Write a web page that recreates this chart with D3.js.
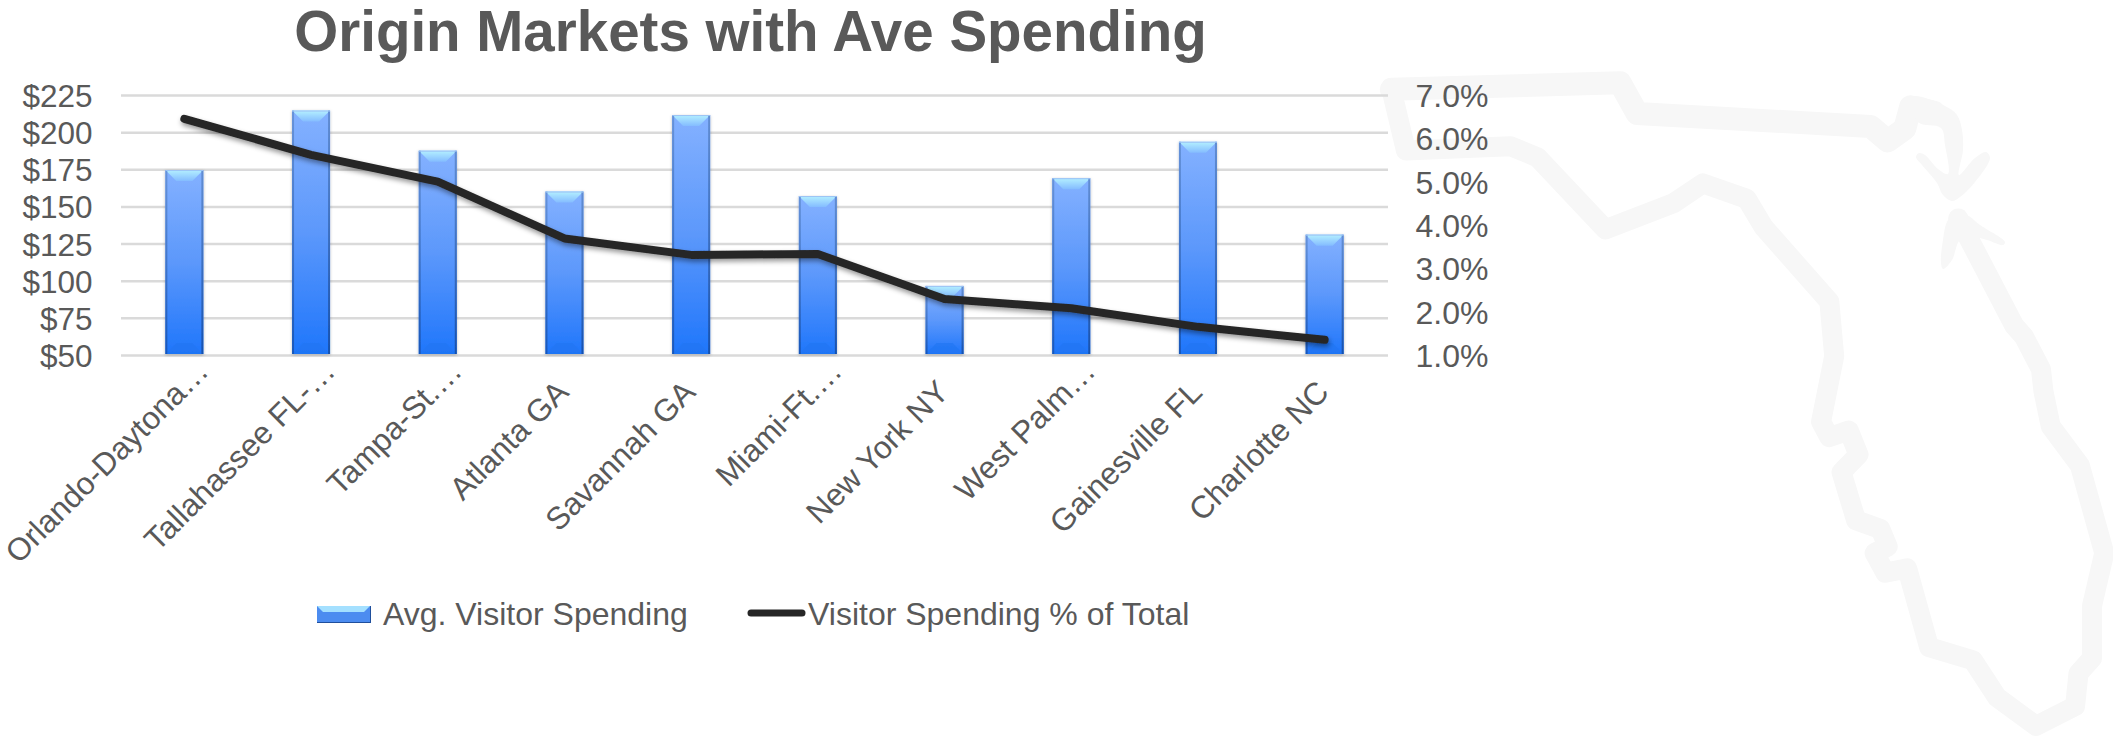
<!DOCTYPE html>
<html>
<head>
<meta charset="utf-8">
<script src="https://cdnjs.cloudflare.com/ajax/libs/d3/7.8.5/d3.min.js"></script>
<style>
html,body{margin:0;padding:0;background:#fff;}
svg{display:block;}
text{font-family:"Liberation Sans",Arial,sans-serif;fill:#595959;}
</style>
</head>
<body>
<svg id="chart" width="2113" height="736"></svg>
<script>
// Chart content
const chartTitle = "Origin Markets with Ave Spending";
const categories = ["Orlando-Daytona…","Tallahassee FL-…","Tampa-St.…","Atlanta GA","Savannah GA","Miami-Ft.…","New York NY","West Palm…","Gainesville FL","Charlotte NC"];
const avgSpending = [174.5,214.5,187.5,160,211.5,157,96.5,169,193.5,131];
const spendingShare = [6.45,5.62,5.0,3.69,3.31,3.33,2.29,2.08,1.65,1.35];
const spendingTicks = [50,75,100,125,150,175,200,225];
const shareTicks = [1,2,3,4,5,6,7];
const legendBar = "Avg. Visitor Spending";
const legendLine = "Visitor Spending % of Total";

// Florida outline, walked clockwise from the panhandle, on its own drawing grid
const floridaNorth = [[85,90],[555,75],[590,145],[1070,175],[1105,208],[1140,180],[1152,130],[1200,142]];
const floridaSouth = [[85,90],[115,230],[330,220],[385,245],[525,410],[665,350],[725,305],[815,340],[850,405],[985,575],[995,700],[968,850],[985,885],[1025,870],[1045,925],[1010,965],[1040,1075],[1090,1095],[1105,1135],[1078,1150],[1100,1195],[1145,1185],[1190,1365],[1280,1395],[1330,1480],[1410,1545],[1490,1500],[1497,1425],[1525,1390],[1525,1270],[1550,1150],[1500,950],[1440,860],[1425,780],[1420,730],[1385,655],[1365,630],[1290,470],[1250,385]];
// Hand-drawn arrowheads closing the outline at the state's northeast corner
const arrowDown = [[1912,97],[1945,106],[1957,115],[1962,130],[1963,150],[1959,175],[1975,158],[1986,152],[1990,158],[1975,182],[1960,197],[1952,201],[1943,195],[1937,183],[1922,165],[1916,157],[1919,153],[1925,155],[1938,169],[1948,174],[1945,145],[1941,128],[1918,122]];
const arrowUp = [[1958,213],[1967,215],[1980,225],[2005,242],[2003,245],[1987,240],[1973,237],[1960,240],[1952,260],[1943,269],[1941,263],[1943,240],[1948,220]];

const svg = d3.select("#chart");
const plot = {left:121, right:1388, top:95, bottom:355};
const tickFont = 31.5;
const legendFont = 32;

const x = d3.scaleBand().domain(categories).range([plot.left,plot.right]).paddingInner(0.7).paddingOuter(0.35);
const yLeft = d3.scaleLinear().domain([50,225]).range([plot.bottom,plot.top]);
const yRight = d3.scaleLinear().domain([1,7]).range([plot.bottom,plot.top]);
const mapX = d3.scaleLinear().domain([0,763*2.055]).range([1350,2113]);
const mapY = d3.scaleLinear().domain([0,686*2.286]).range([50,736]);

// Gradients and shadows
const defs = svg.append("defs");
function gradient(id, stops){
  const g = defs.append("linearGradient").attr("id",id).attr("x1",0).attr("y1",0).attr("x2",0).attr("y2",1);
  stops.forEach(([o,c])=>g.append("stop").attr("offset",o).attr("stop-color",c));
}
gradient("barBody",[[0,"#84b1ff"],[0.5,"#5c98fb"],[1,"#1f76fb"]]);
gradient("barCap",[[0,"#b4f0ff"],[1,"#84bcff"]]);
gradient("barEdge",[[0,"#5f8bd0"],[1,"#164faa"]]);
const lineShadow = defs.append("filter").attr("id","lineShadow").attr("x","-5%").attr("y","-20%").attr("width","110%").attr("height","150%");
lineShadow.append("feDropShadow").attr("dx",1).attr("dy",3).attr("stdDeviation",2.5).attr("flood-color","#000").attr("flood-opacity",0.4);
const barShadow = defs.append("filter").attr("id","barShadow").attr("x","-20%").attr("y","-5%").attr("width","140%").attr("height","112%");
barShadow.append("feDropShadow").attr("dx",0).attr("dy",1).attr("stdDeviation",1.5).attr("flood-color","#000").attr("flood-opacity",0.25);

// Florida watermark behind the chart
const outline = d3.line().x(d=>mapX(d[0])).y(d=>mapY(d[1]));
const map = svg.append("g").attr("fill","none").attr("stroke","#f7f7f7").attr("stroke-linejoin","round").attr("stroke-linecap","round");
map.append("path").attr("d",outline(floridaNorth)).attr("stroke-width",23);
map.append("path").attr("d",outline(floridaSouth)).attr("stroke-width",20);
const blob = d3.line().curve(d3.curveCatmullRomClosed.alpha(0.5));
[arrowDown,arrowUp].forEach(shape=>svg.append("path").attr("d",blob(shape)).attr("fill","#f7f7f7"));

// Gridlines and left axis
const axisLeft = d3.axisLeft(yLeft).tickValues(spendingTicks).tickFormat(d=>"$"+d).tickSize(0).tickPadding(0);
const gLeft = svg.append("g").attr("transform",`translate(92.5,0)`).call(axisLeft);
gLeft.select(".domain").remove();
gLeft.selectAll("text").attr("font-size",tickFont).attr("dy",11.5).attr("font-family",null).style("fill","#595959");

const grid = d3.axisRight(yLeft).tickValues(spendingTicks).tickSize(plot.right-plot.left).tickFormat("");
const gGrid = svg.append("g").attr("transform",`translate(${plot.left},0)`).call(grid);
gGrid.select(".domain").remove();
gGrid.selectAll("line").attr("stroke","#dadada").attr("stroke-width",2.5);

// Right axis
const axisRight = d3.axisRight(yRight).tickValues(shareTicks).tickFormat(d=>d.toFixed(1)+"%").tickSize(0).tickPadding(0);
const gRight = svg.append("g").attr("transform",`translate(1415.5,0)`).call(axisRight);
gRight.select(".domain").remove();
gRight.selectAll("text").attr("font-size",legendFont).attr("dy",11.5).style("fill","#595959");

// Bevelled column: body, side edges, top cap and a faint base facet
function bevel(g, bx, by, w, h, d){
  g.append("rect").attr("x",bx).attr("y",by).attr("width",w).attr("height",h).attr("fill","url(#barBody)");
  g.append("polygon").attr("points",[[bx,by],[bx+w,by],[bx+w-d,by+d],[bx+d,by+d]].join(" ")).attr("fill","url(#barCap)");
  g.append("polygon").attr("points",[[bx,by+h],[bx+w,by+h],[bx+w-d,by+h-d],[bx+d,by+h-d]].join(" ")).attr("fill","#1f74f2").attr("opacity",0.6);
  g.append("rect").attr("x",bx).attr("y",by).attr("width",2).attr("height",h).attr("fill","url(#barEdge)").attr("opacity",0.8);
  g.append("rect").attr("x",bx+w-2).attr("y",by).attr("width",2).attr("height",h).attr("fill","url(#barEdge)").attr("opacity",0.95);
  g.append("rect").attr("x",bx).attr("y",by).attr("width",w).attr("height",1).attr("fill","#9dc4f5");
}
const bars = svg.append("g");
categories.forEach((c,i)=>{
  const g = bars.append("g").attr("filter","url(#barShadow)");
  bevel(g, x(c), yLeft(avgSpending[i]), x.bandwidth(), plot.bottom-1-yLeft(avgSpending[i]), 11);
});

// Share line on the right-hand scale
const shareLine = d3.line()
  .x((d,i)=>x(categories[i])+x.bandwidth()/2)
  .y(d=>yRight(d));
svg.append("path").attr("d",shareLine(spendingShare))
  .attr("fill","none").attr("stroke","#262626").attr("stroke-width",8)
  .attr("stroke-linecap","round").attr("stroke-linejoin","round")
  .attr("filter","url(#lineShadow)");

// Category labels, slanted and ending under their columns
const labels = svg.append("g");
categories.forEach(c=>{
  const cx = x(c)+x.bandwidth()/2;
  const cut = c.endsWith("…");
  const ax = cx + (cut?26:6), ay = cut?373:394;
  labels.append("text").attr("transform",`translate(${ax},${ay}) rotate(-45)`)
    .attr("text-anchor","end").attr("font-size",tickFont).text(c);
});

// Title
svg.append("text").attr("x",750.5).attr("y",51.2).attr("text-anchor","middle")
  .attr("font-size",56.5).attr("font-weight","bold").text(chartTitle);

// Legend
const swatch = svg.append("g");
swatch.append("rect").attr("x",317).attr("y",606).attr("width",54).attr("height",17).attr("fill","#1f4f9c");
swatch.append("rect").attr("x",317).attr("y",606).attr("width",53).attr("height",16).attr("fill","#4c8cf0");
swatch.append("polygon").attr("points","317,606 370,606 364,612 323,612").attr("fill","#a4e0ff");
svg.append("text").attr("x",383).attr("y",625).attr("font-size",legendFont).text(legendBar);
svg.append("line").attr("x1",751).attr("x2",802).attr("y1",613).attr("y2",613)
  .attr("stroke","#262626").attr("stroke-width",7).attr("stroke-linecap","round");
svg.append("text").attr("x",808).attr("y",625).attr("font-size",legendFont).text(legendLine);
</script>
</body>
</html>
